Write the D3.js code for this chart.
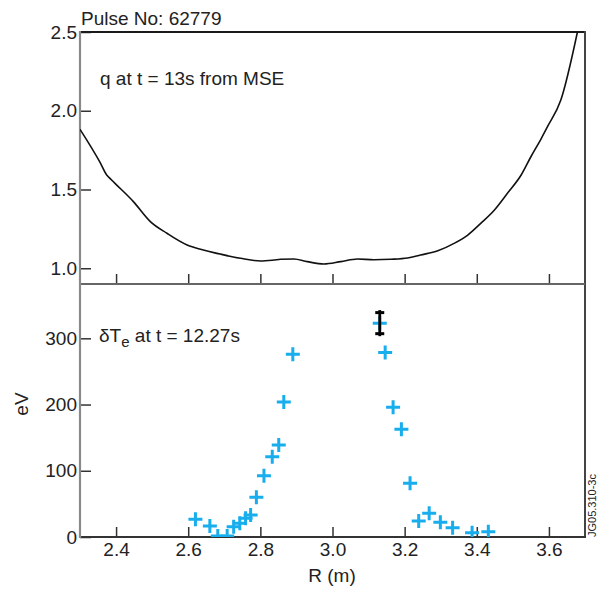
<!DOCTYPE html>
<html>
<head>
<meta charset="utf-8">
<script src="https://cdn.jsdelivr.net/npm/d3@7"></script>
<style>
  html, body { margin: 0; padding: 0; background: #fff; }
  svg { display: block; font-family: "Liberation Sans", Arial, Helvetica, sans-serif; }
</style>
</head>
<body>
<svg id="chart" width="597" height="590"></svg>
<script>
// ---- data ----
const qR = [2.300, 2.356, 2.374, 2.383, 2.397, 2.448, 2.495, 2.541, 2.597, 2.615, 2.689, 2.745, 2.800, 2.837, 2.856, 2.893, 2.930, 2.976, 3.023, 3.069, 3.115, 3.162, 3.208, 3.244, 3.292, 3.337, 3.375, 3.411, 3.449, 3.485, 3.523, 3.550, 3.579, 3.596, 3.633, 3.679];
const qVals = [1.882, 1.670, 1.592, 1.571, 1.539, 1.423, 1.296, 1.222, 1.148, 1.133, 1.090, 1.063, 1.046, 1.052, 1.057, 1.059, 1.042, 1.027, 1.042, 1.059, 1.054, 1.057, 1.065, 1.084, 1.111, 1.158, 1.211, 1.285, 1.370, 1.476, 1.592, 1.708, 1.825, 1.899, 2.068, 2.500];

const teR = [2.620, 2.660, 2.682, 2.708, 2.726, 2.743, 2.759, 2.773, 2.789, 2.810, 2.833, 2.851, 2.865, 2.890, 3.131, 3.146, 3.168, 3.191, 3.215, 3.239, 3.268, 3.299, 3.333, 3.387, 3.432];
const teVals = [26.7, 16.6, 1.5, 1.5, 15.6, 20.7, 28.2, 33.2, 60, 92.6, 121.3, 139, 204, 276, 322.8, 278.4, 195.9, 162.7, 81.1, 24.2, 35.8, 22.2, 14, 6.5, 8];

const errR = [3.131];
const errLow = [307.0];
const errHigh = [338.8];

const xTicks = [2.4, 2.6, 2.8, 3.0, 3.2, 3.4, 3.6];
const qTicks = [1.0, 1.5, 2.0, 2.5];
const teTicks = [0, 100, 200, 300];

// ---- layout ----
const svg = d3.select("#chart");
const pL = 80, pR = 585, pT = 32, pM = 284, pB = 537;
const x = d3.scaleLinear().domain([2.3, 3.7]).range([pL, pR]);
const yq = d3.scaleLinear().domain([0.9, 2.5]).range([pM, pT]);
const yt = d3.scaleLinear().domain([0, 382]).range([pB, pM]);
const txt = "#222";
const fs = 19;

// clip paths
const defs = svg.append("defs");
defs.append("clipPath").attr("id", "clipTop").append("rect")
  .attr("x", pL).attr("y", pT).attr("width", pR - pL).attr("height", pM - pT);
defs.append("clipPath").attr("id", "clipBot").append("rect")
  .attr("x", pL).attr("y", pM).attr("width", pR - pL).attr("height", pB - pM);

// axes (ticks inward)
function styleAxis(g) {
  g.select(".domain").remove();
  g.selectAll(".tick line").attr("stroke", "#333").attr("stroke-width", 1.5);
  g.selectAll(".tick text").attr("fill", txt).attr("font-size", fs)
    .attr("font-family", "Liberation Sans, Arial, Helvetica, sans-serif");
}
svg.append("g").attr("transform", `translate(${pL},0)`)
  .call(d3.axisLeft(yq).tickValues(qTicks).tickFormat(d3.format(".1f")).tickSize(-11).tickPadding(3))
  .call(styleAxis);
svg.append("g").attr("transform", `translate(${pL},0)`)
  .call(d3.axisLeft(yt).tickValues(teTicks).tickFormat(d3.format("d")).tickSize(-11).tickPadding(3))
  .call(styleAxis);
svg.append("g").attr("transform", `translate(0,${pM})`)
  .call(d3.axisBottom(x).tickValues(xTicks).tickFormat("").tickSize(-10))
  .call(styleAxis);
svg.append("g").attr("transform", `translate(0,${pB})`)
  .call(d3.axisBottom(x).tickValues(xTicks).tickFormat(d3.format(".1f")).tickSize(-10).tickPadding(6))
  .call(styleAxis);

// frame lines
svg.append("line").attr("x1", pL).attr("x2", pR).attr("y1", pT).attr("y2", pT)
  .attr("stroke", "#1a1a1a").attr("stroke-width", 2);
svg.append("line").attr("x1", pR).attr("x2", pR).attr("y1", pT - 1).attr("y2", pB)
  .attr("stroke", "#444").attr("stroke-width", 2);
svg.append("line").attr("x1", pL).attr("x2", pR).attr("y1", pM).attr("y2", pM)
  .attr("stroke", "#666").attr("stroke-width", 2);
svg.append("line").attr("x1", pL).attr("x2", pR + 1).attr("y1", pB).attr("y2", pB)
  .attr("stroke", "#333").attr("stroke-width", 2);
svg.append("line").attr("x1", pL).attr("x2", pL).attr("y1", pT - 1).attr("y2", pB + 1)
  .attr("stroke", "#8a8a8a").attr("stroke-width", 2.2);

// q curve
const line = d3.line().x((d, i) => x(qR[i])).y(d => yq(d)).curve(d3.curveMonotoneX);
svg.append("path").datum(qVals).attr("d", line)
  .attr("clip-path", "url(#clipTop)")
  .attr("fill", "none").attr("stroke", "#111").attr("stroke-width", 1.6);

// Te crosses
const blue = "#18adec";
const gPts = svg.append("g").attr("clip-path", "url(#clipBot)");
gPts.selectAll("path.pt").data(teVals).enter().append("path")
  .attr("class", "pt")
  .attr("transform", (d, i) => `translate(${x(teR[i])},${yt(d)})`)
  .attr("d", "M-7,0H7M0,-7V7")
  .attr("stroke", blue).attr("stroke-width", 3).attr("fill", "none");

// error bar
errR.forEach((r, i) => {
  const cx = x(r);
  const g = svg.append("g").attr("stroke", "#000").attr("fill", "none");
  g.append("line").attr("x1", cx).attr("x2", cx).attr("y1", yt(errHigh[i]) - 2.5).attr("y2", yt(errLow[i]) + 2.5).attr("stroke-width", 2.8);
  g.append("line").attr("x1", cx - 4.5).attr("x2", cx + 4.5).attr("y1", yt(errHigh[i])).attr("y2", yt(errHigh[i])).attr("stroke-width", 3);
  g.append("line").attr("x1", cx - 4.5).attr("x2", cx + 4.5).attr("y1", yt(errLow[i])).attr("y2", yt(errLow[i])).attr("stroke-width", 3);
});

// texts
svg.append("text").attr("x", 81).attr("y", 25).attr("font-size", fs).attr("fill", txt).text("Pulse No: 62779");
svg.append("text").attr("x", 100).attr("y", 85).attr("font-size", fs).attr("fill", txt).text("q at t = 13s from MSE");
const t2 = svg.append("text").attr("x", 99).attr("y", 342).attr("font-size", fs).attr("fill", txt);
t2.append("tspan").text("δT");
t2.append("tspan").attr("font-size", 15).attr("dy", 5).text("e");
t2.append("tspan").attr("dy", -5).text(" at t = 12.27s");
svg.append("text").attr("transform", "translate(28,404) rotate(-90)").attr("text-anchor", "middle")
  .attr("font-size", fs).attr("fill", txt).text("eV");
svg.append("text").attr("x", 332).attr("y", 582).attr("text-anchor", "middle")
  .attr("font-size", fs).attr("fill", txt).text("R (m)");
svg.append("text").attr("transform", "translate(596,537) rotate(-90)").attr("text-anchor", "start")
  .attr("font-size", 11).attr("fill", txt).text("JG05.310-3c");
</script>
</body>
</html>
